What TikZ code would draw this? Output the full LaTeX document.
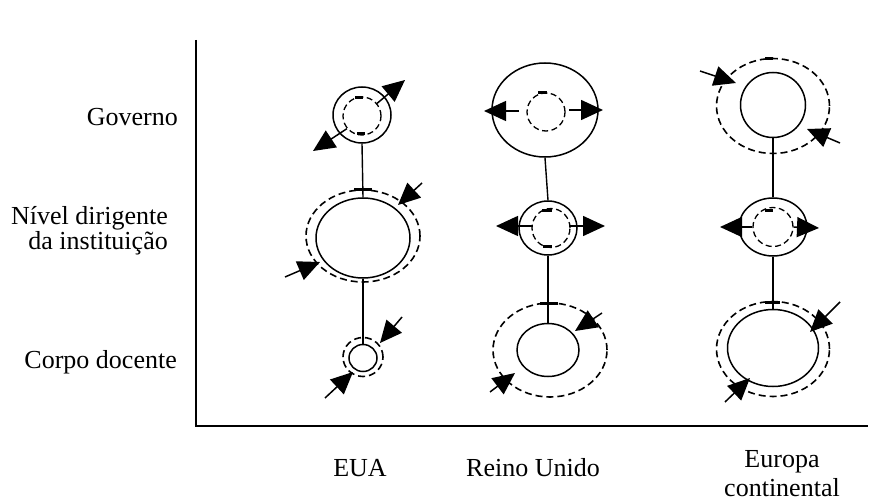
\documentclass[tikz,border=0pt]{standalone}
\usepackage{fontspec}
\setmainfont{Liberation Serif}
\usetikzlibrary{arrows.meta,shapes.geometric}
\begin{document}
\begin{tikzpicture}[x=1pt,y=-1pt,
  solidring/.style={draw,ellipse,line width=1.5pt,inner sep=0pt},
  dashring/.style={draw,ellipse,line width=1.6pt,inner sep=0pt,dash pattern=on 7pt off 4pt},
  thinring/.style={draw,ellipse,line width=1.3pt,inner sep=0pt,dash pattern=on 6pt off 3.5pt},
  link/.style={line width=1.4pt},
  push/.style={line width=1.5pt,-{Triangle[length=22pt,width=20pt]}},
  bar/.style={line width=3pt},
  lbl/.style={font=\fontsize{26}{30}\selectfont,inner sep=0pt}
]
\useasboundingbox (0,0) rectangle (892,500);

% axes
\coordinate (ytop) at (196,40);
\coordinate (origin) at (196,426);
\coordinate (xend) at (868,426);
\draw[line width=1.5pt] (ytop) -- (origin) -- (xend);

% row labels (base anchor sits on the last line)
\node[lbl,anchor=base east] (lgov) at (178,126) {Governo};
\node[lbl,anchor=base east,align=right] (lnivel) at (168,249) {Nível dirigente\\[-5pt]da instituição};
\node[lbl,anchor=base east] (ldoc) at (177,368) {Corpo docente};

% column labels
\node[lbl,anchor=base] (ceua) at (360,476) {EUA};
\node[lbl,anchor=base] (cru) at (533,476) {Reino Unido};
\node[lbl,anchor=base,align=center] (ceu) at (782,496) {Europa\\[-1pt]continental};

% ---------- EUA ----------
\node[solidring,minimum width=58pt,minimum height=56pt] (ug) at (362,115) {};
\node[thinring,minimum width=38pt,minimum height=38pt] (ugd) at (362,116) {};
\node[solidring,minimum width=94pt,minimum height=80pt] (um) at (363,238) {};
\node[dashring,minimum width=114pt,minimum height=92pt] (umd) at (363,236) {};
\node[solidring,minimum width=28pt,minimum height=27pt] (ub) at (363,358) {};
\node[dashring,minimum width=40pt,minimum height=39pt] (ubd) at (363,357) {};
\draw[link] (ug.south) -- (um.north);
\draw[link] (um.south) -- (ub.north);
\draw[bar] (354,190) -- (372,190);
\draw[bar] (355,98) -- (363,98);
\draw[bar] (357,134) -- (365,134);
\draw[push] (ugd.40) -- (405,80);
\draw[push] (ugd.220) -- (313,151);
\coordinate (ua1) at (422,183);
\coordinate (ua2) at (285,277);
\draw[push] (ua1) -- (398,205);
\draw[push] (ua2) -- (320,262);
\coordinate (ua3) at (402,317);
\coordinate (ua4) at (325,398);
\draw[push] (ua3) -- (380,343);
\draw[push] (ua4) -- (353,372);

% ---------- Reino Unido ----------
\node[solidring,minimum width=106pt,minimum height=94pt] (rg) at (545,110) {};
\node[thinring,minimum width=38pt,minimum height=38pt] (rgd) at (546,112) {};
\node[solidring,minimum width=58pt,minimum height=54pt] (rm) at (548,228) {};
\node[thinring,minimum width=38pt,minimum height=39pt] (rmd) at (551,228) {};
\node[solidring,minimum width=62pt,minimum height=53pt] (rb) at (548,350) {};
\node[dashring,minimum width=114pt,minimum height=94pt] (rbd) at (550,350) {};
\draw[link] (rg.south) -- (rm.north);
\draw[link] (rm.south) -- (rb.north);
\draw[bar] (540,303) -- (558,303);
\draw[bar] (538,93) -- (547,93);
\draw[bar] (542,210) -- (552,210);
\draw[bar] (543,246) -- (552,246);
\draw[push] (519,111) -- (484,111);
\draw[push] (569,110) -- (603,110);
\draw[push] (532,226) -- (496,226);
\draw[push] (570,226) -- (605,226);
\coordinate (ra1) at (602,313);
\coordinate (ra2) at (490,392);
\draw[push] (ra1) -- (575,331);
\draw[push] (ra2) -- (515,373);

% ---------- Europa continental ----------
\node[solidring,minimum width=65pt,minimum height=65pt] (eg) at (773,105) {};
\node[dashring,minimum width=113pt,minimum height=95pt] (egd) at (773,106) {};
\node[solidring,minimum width=68pt,minimum height=58pt] (em) at (773,227) {};
\node[thinring,minimum width=40pt,minimum height=39pt] (emd) at (773,227) {};
\node[solidring,minimum width=91pt,minimum height=77pt] (eb) at (773,348) {};
\node[dashring,minimum width=113pt,minimum height=95pt] (ebd) at (773,349) {};
\draw[link] (eg.south) -- (em.north);
\draw[link] (em.south) -- (eb.north);
\draw[bar] (765,302) -- (780,302);
\draw[bar] (765,59) -- (773,59);
\draw[bar] (765,210) -- (773,210);
\coordinate (ea1) at (700,71);
\coordinate (ea2) at (840,143);
\draw[push] (ea1) -- (736,83);
\draw[push] (ea2) -- (807,129);
\draw[push] (emd.west) -- (720,227);
\draw[push] (emd.east) -- (819,228);
\coordinate (ea3) at (840,302);
\coordinate (ea4) at (725,402);
\draw[push] (ea3) -- (810,332);
\draw[push] (ea4) -- (750,378);
\end{tikzpicture}
\end{document}
